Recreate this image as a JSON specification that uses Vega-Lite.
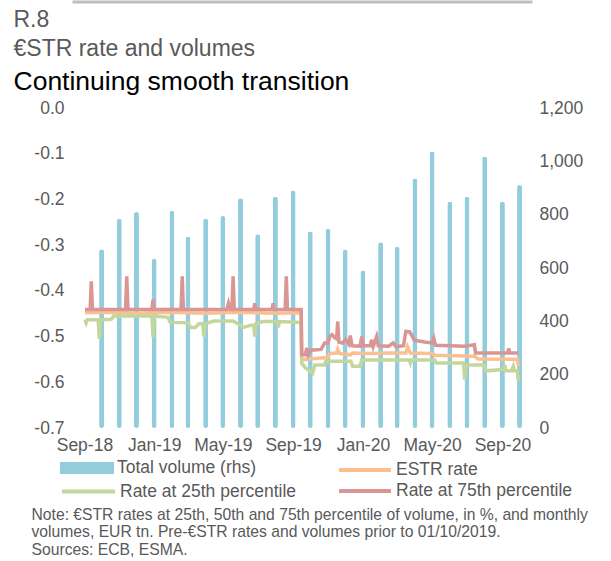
{
  "$schema": "https://vega.github.io/schema/vega-lite/v6.json",
  "width": 460,
  "height": 320,
  "autosize": "none",
  "padding": {"left": 72, "top": 108, "right": 79, "bottom": 133},
  "background": "white",
  "config": {
    "view": {"stroke": null},
    "font": "Liberation Sans",
    "axis": {"domain": false, "ticks": false, "tickSize": 0, "grid": false, "labelFont": "Liberation Sans", "labelFontSize": 17.5, "labelColor": "#595959", "titleFont": "Liberation Sans", "titleFontWeight": "normal"},
    "legend": {"padding": 0, "labelFont": "Liberation Sans", "labelFontSize": 17.5, "labelColor": "#595959", "labelOffset": 3, "labelLimit": 0}
  },
  "datasets": {
    "volume": [
      {"month": "2018-10-01", "volume": 670},
      {"month": "2018-11-01", "volume": 785},
      {"month": "2018-12-01", "volume": 810},
      {"month": "2019-01-01", "volume": 635},
      {"month": "2019-02-01", "volume": 815},
      {"month": "2019-03-01", "volume": 717},
      {"month": "2019-04-01", "volume": 785},
      {"month": "2019-05-01", "volume": 795},
      {"month": "2019-06-01", "volume": 862},
      {"month": "2019-07-01", "volume": 727},
      {"month": "2019-08-01", "volume": 867},
      {"month": "2019-09-01", "volume": 891},
      {"month": "2019-10-01", "volume": 737},
      {"month": "2019-11-01", "volume": 747},
      {"month": "2019-12-01", "volume": 669},
      {"month": "2020-01-01", "volume": 591},
      {"month": "2020-02-01", "volume": 697},
      {"month": "2020-03-01", "volume": 679},
      {"month": "2020-04-01", "volume": 936},
      {"month": "2020-05-01", "volume": 1037},
      {"month": "2020-06-01", "volume": 849},
      {"month": "2020-07-01", "volume": 867},
      {"month": "2020-08-01", "volume": 1018},
      {"month": "2020-09-01", "volume": 849},
      {"month": "2020-10-01", "volume": 911}
    ],
    "rates": [
      {"date": "2018-09-02", "series": "ESTR rate", "rate": -0.448},
      {"date": "2018-10-15", "series": "ESTR rate", "rate": -0.447},
      {"date": "2018-12-01", "series": "ESTR rate", "rate": -0.449},
      {"date": "2019-02-01", "series": "ESTR rate", "rate": -0.447},
      {"date": "2019-04-01", "series": "ESTR rate", "rate": -0.449},
      {"date": "2019-06-01", "series": "ESTR rate", "rate": -0.447},
      {"date": "2019-08-01", "series": "ESTR rate", "rate": -0.449},
      {"date": "2019-09-15", "series": "ESTR rate", "rate": -0.448},
      {"date": "2019-09-16", "series": "ESTR rate", "rate": -0.551},
      {"date": "2019-10-09", "series": "ESTR rate", "rate": -0.548},
      {"date": "2019-10-31", "series": "ESTR rate", "rate": -0.546},
      {"date": "2019-11-04", "series": "ESTR rate", "rate": -0.537},
      {"date": "2019-11-16", "series": "ESTR rate", "rate": -0.536},
      {"date": "2019-11-18", "series": "ESTR rate", "rate": -0.528},
      {"date": "2019-11-21", "series": "ESTR rate", "rate": -0.537},
      {"date": "2019-12-10", "series": "ESTR rate", "rate": -0.540},
      {"date": "2019-12-14", "series": "ESTR rate", "rate": -0.536},
      {"date": "2020-01-15", "series": "ESTR rate", "rate": -0.537},
      {"date": "2020-02-15", "series": "ESTR rate", "rate": -0.536},
      {"date": "2020-03-16", "series": "ESTR rate", "rate": -0.536},
      {"date": "2020-03-19", "series": "ESTR rate", "rate": -0.522},
      {"date": "2020-03-24", "series": "ESTR rate", "rate": -0.536},
      {"date": "2020-05-01", "series": "ESTR rate", "rate": -0.537},
      {"date": "2020-05-06", "series": "ESTR rate", "rate": -0.541},
      {"date": "2020-07-14", "series": "ESTR rate", "rate": -0.543},
      {"date": "2020-07-21", "series": "ESTR rate", "rate": -0.549},
      {"date": "2020-09-27", "series": "ESTR rate", "rate": -0.550},
      {"date": "2020-09-29", "series": "ESTR rate", "rate": -0.565},

      {"date": "2018-09-02", "series": "Rate at 25th percentile", "rate": -0.463},
      {"date": "2018-09-04", "series": "Rate at 25th percentile", "rate": -0.470},
      {"date": "2018-09-06", "series": "Rate at 25th percentile", "rate": -0.463},
      {"date": "2018-09-25", "series": "Rate at 25th percentile", "rate": -0.463},
      {"date": "2018-09-27", "series": "Rate at 25th percentile", "rate": -0.505},
      {"date": "2018-09-29", "series": "Rate at 25th percentile", "rate": -0.463},
      {"date": "2018-10-18", "series": "Rate at 25th percentile", "rate": -0.462},
      {"date": "2018-10-22", "series": "Rate at 25th percentile", "rate": -0.455},
      {"date": "2018-12-28", "series": "Rate at 25th percentile", "rate": -0.455},
      {"date": "2018-12-30", "series": "Rate at 25th percentile", "rate": -0.502},
      {"date": "2019-01-01", "series": "Rate at 25th percentile", "rate": -0.455},
      {"date": "2019-01-25", "series": "Rate at 25th percentile", "rate": -0.458},
      {"date": "2019-01-29", "series": "Rate at 25th percentile", "rate": -0.469},
      {"date": "2019-03-02", "series": "Rate at 25th percentile", "rate": -0.470},
      {"date": "2019-03-05", "series": "Rate at 25th percentile", "rate": -0.480},
      {"date": "2019-03-14", "series": "Rate at 25th percentile", "rate": -0.480},
      {"date": "2019-03-20", "series": "Rate at 25th percentile", "rate": -0.472},
      {"date": "2019-03-27", "series": "Rate at 25th percentile", "rate": -0.472},
      {"date": "2019-03-29", "series": "Rate at 25th percentile", "rate": -0.500},
      {"date": "2019-03-31", "series": "Rate at 25th percentile", "rate": -0.472},
      {"date": "2019-04-15", "series": "Rate at 25th percentile", "rate": -0.466},
      {"date": "2019-05-19", "series": "Rate at 25th percentile", "rate": -0.466},
      {"date": "2019-06-01", "series": "Rate at 25th percentile", "rate": -0.475},
      {"date": "2019-06-06", "series": "Rate at 25th percentile", "rate": -0.480},
      {"date": "2019-06-20", "series": "Rate at 25th percentile", "rate": -0.475},
      {"date": "2019-06-24", "series": "Rate at 25th percentile", "rate": -0.475},
      {"date": "2019-06-26", "series": "Rate at 25th percentile", "rate": -0.500},
      {"date": "2019-06-28", "series": "Rate at 25th percentile", "rate": -0.472},
      {"date": "2019-07-10", "series": "Rate at 25th percentile", "rate": -0.467},
      {"date": "2019-08-04", "series": "Rate at 25th percentile", "rate": -0.467},
      {"date": "2019-08-06", "series": "Rate at 25th percentile", "rate": -0.480},
      {"date": "2019-08-08", "series": "Rate at 25th percentile", "rate": -0.467},
      {"date": "2019-09-15", "series": "Rate at 25th percentile", "rate": -0.469},
      {"date": "2019-09-16", "series": "Rate at 25th percentile", "rate": -0.558},
      {"date": "2019-09-22", "series": "Rate at 25th percentile", "rate": -0.568},
      {"date": "2019-09-30", "series": "Rate at 25th percentile", "rate": -0.575},
      {"date": "2019-10-05", "series": "Rate at 25th percentile", "rate": -0.580},
      {"date": "2019-10-09", "series": "Rate at 25th percentile", "rate": -0.562},
      {"date": "2019-10-26", "series": "Rate at 25th percentile", "rate": -0.562},
      {"date": "2019-10-28", "series": "Rate at 25th percentile", "rate": -0.554},
      {"date": "2019-12-11", "series": "Rate at 25th percentile", "rate": -0.554},
      {"date": "2019-12-14", "series": "Rate at 25th percentile", "rate": -0.565},
      {"date": "2019-12-27", "series": "Rate at 25th percentile", "rate": -0.565},
      {"date": "2019-12-30", "series": "Rate at 25th percentile", "rate": -0.551},
      {"date": "2020-03-22", "series": "Rate at 25th percentile", "rate": -0.551},
      {"date": "2020-03-24", "series": "Rate at 25th percentile", "rate": -0.558},
      {"date": "2020-03-26", "series": "Rate at 25th percentile", "rate": -0.551},
      {"date": "2020-05-06", "series": "Rate at 25th percentile", "rate": -0.551},
      {"date": "2020-05-08", "series": "Rate at 25th percentile", "rate": -0.558},
      {"date": "2020-06-25", "series": "Rate at 25th percentile", "rate": -0.558},
      {"date": "2020-06-27", "series": "Rate at 25th percentile", "rate": -0.594},
      {"date": "2020-06-29", "series": "Rate at 25th percentile", "rate": -0.562},
      {"date": "2020-07-31", "series": "Rate at 25th percentile", "rate": -0.562},
      {"date": "2020-08-03", "series": "Rate at 25th percentile", "rate": -0.575},
      {"date": "2020-09-03", "series": "Rate at 25th percentile", "rate": -0.572},
      {"date": "2020-09-05", "series": "Rate at 25th percentile", "rate": -0.562},
      {"date": "2020-09-07", "series": "Rate at 25th percentile", "rate": -0.575},
      {"date": "2020-09-17", "series": "Rate at 25th percentile", "rate": -0.575},
      {"date": "2020-09-20", "series": "Rate at 25th percentile", "rate": -0.565},
      {"date": "2020-09-22", "series": "Rate at 25th percentile", "rate": -0.575},
      {"date": "2020-09-27", "series": "Rate at 25th percentile", "rate": -0.575},
      {"date": "2020-09-29", "series": "Rate at 25th percentile", "rate": -0.598},

      {"date": "2018-09-02", "series": "Rate at 75th percentile", "rate": -0.441},
      {"date": "2018-09-11", "series": "Rate at 75th percentile", "rate": -0.441},
      {"date": "2018-09-13", "series": "Rate at 75th percentile", "rate": -0.379},
      {"date": "2018-09-15", "series": "Rate at 75th percentile", "rate": -0.441},
      {"date": "2018-11-12", "series": "Rate at 75th percentile", "rate": -0.441},
      {"date": "2018-11-14", "series": "Rate at 75th percentile", "rate": -0.368},
      {"date": "2018-11-16", "series": "Rate at 75th percentile", "rate": -0.441},
      {"date": "2018-12-28", "series": "Rate at 75th percentile", "rate": -0.441},
      {"date": "2018-12-30", "series": "Rate at 75th percentile", "rate": -0.419},
      {"date": "2019-01-01", "series": "Rate at 75th percentile", "rate": -0.441},
      {"date": "2019-02-17", "series": "Rate at 75th percentile", "rate": -0.441},
      {"date": "2019-02-19", "series": "Rate at 75th percentile", "rate": -0.368},
      {"date": "2019-02-21", "series": "Rate at 75th percentile", "rate": -0.441},
      {"date": "2019-05-08", "series": "Rate at 75th percentile", "rate": -0.441},
      {"date": "2019-05-11", "series": "Rate at 75th percentile", "rate": -0.427},
      {"date": "2019-05-14", "series": "Rate at 75th percentile", "rate": -0.441},
      {"date": "2019-05-17", "series": "Rate at 75th percentile", "rate": -0.441},
      {"date": "2019-05-19", "series": "Rate at 75th percentile", "rate": -0.368},
      {"date": "2019-05-21", "series": "Rate at 75th percentile", "rate": -0.441},
      {"date": "2019-06-24", "series": "Rate at 75th percentile", "rate": -0.441},
      {"date": "2019-06-26", "series": "Rate at 75th percentile", "rate": -0.427},
      {"date": "2019-06-28", "series": "Rate at 75th percentile", "rate": -0.441},
      {"date": "2019-07-26", "series": "Rate at 75th percentile", "rate": -0.441},
      {"date": "2019-07-28", "series": "Rate at 75th percentile", "rate": -0.427},
      {"date": "2019-07-30", "series": "Rate at 75th percentile", "rate": -0.441},
      {"date": "2019-08-18", "series": "Rate at 75th percentile", "rate": -0.441},
      {"date": "2019-08-20", "series": "Rate at 75th percentile", "rate": -0.368},
      {"date": "2019-08-22", "series": "Rate at 75th percentile", "rate": -0.441},
      {"date": "2019-09-15", "series": "Rate at 75th percentile", "rate": -0.441},
      {"date": "2019-09-16", "series": "Rate at 75th percentile", "rate": -0.540},
      {"date": "2019-09-22", "series": "Rate at 75th percentile", "rate": -0.540},
      {"date": "2019-09-25", "series": "Rate at 75th percentile", "rate": -0.525},
      {"date": "2019-09-27", "series": "Rate at 75th percentile", "rate": -0.540},
      {"date": "2019-10-02", "series": "Rate at 75th percentile", "rate": -0.530},
      {"date": "2019-10-20", "series": "Rate at 75th percentile", "rate": -0.528},
      {"date": "2019-10-26", "series": "Rate at 75th percentile", "rate": -0.514},
      {"date": "2019-11-01", "series": "Rate at 75th percentile", "rate": -0.514},
      {"date": "2019-11-04", "series": "Rate at 75th percentile", "rate": -0.500},
      {"date": "2019-11-08", "series": "Rate at 75th percentile", "rate": -0.496},
      {"date": "2019-11-12", "series": "Rate at 75th percentile", "rate": -0.502},
      {"date": "2019-11-16", "series": "Rate at 75th percentile", "rate": -0.505},
      {"date": "2019-11-18", "series": "Rate at 75th percentile", "rate": -0.467},
      {"date": "2019-11-20", "series": "Rate at 75th percentile", "rate": -0.512},
      {"date": "2019-11-26", "series": "Rate at 75th percentile", "rate": -0.514},
      {"date": "2019-12-02", "series": "Rate at 75th percentile", "rate": -0.506},
      {"date": "2019-12-07", "series": "Rate at 75th percentile", "rate": -0.516},
      {"date": "2019-12-10", "series": "Rate at 75th percentile", "rate": -0.498},
      {"date": "2019-12-13", "series": "Rate at 75th percentile", "rate": -0.520},
      {"date": "2019-12-27", "series": "Rate at 75th percentile", "rate": -0.521},
      {"date": "2019-12-30", "series": "Rate at 75th percentile", "rate": -0.500},
      {"date": "2020-01-02", "series": "Rate at 75th percentile", "rate": -0.520},
      {"date": "2020-01-14", "series": "Rate at 75th percentile", "rate": -0.520},
      {"date": "2020-01-16", "series": "Rate at 75th percentile", "rate": -0.507},
      {"date": "2020-01-19", "series": "Rate at 75th percentile", "rate": -0.522},
      {"date": "2020-01-25", "series": "Rate at 75th percentile", "rate": -0.500},
      {"date": "2020-01-28", "series": "Rate at 75th percentile", "rate": -0.520},
      {"date": "2020-02-15", "series": "Rate at 75th percentile", "rate": -0.521},
      {"date": "2020-02-23", "series": "Rate at 75th percentile", "rate": -0.514},
      {"date": "2020-02-28", "series": "Rate at 75th percentile", "rate": -0.522},
      {"date": "2020-03-12", "series": "Rate at 75th percentile", "rate": -0.520},
      {"date": "2020-03-16", "series": "Rate at 75th percentile", "rate": -0.489},
      {"date": "2020-03-23", "series": "Rate at 75th percentile", "rate": -0.490},
      {"date": "2020-03-31", "series": "Rate at 75th percentile", "rate": -0.508},
      {"date": "2020-04-18", "series": "Rate at 75th percentile", "rate": -0.512},
      {"date": "2020-05-01", "series": "Rate at 75th percentile", "rate": -0.514},
      {"date": "2020-05-04", "series": "Rate at 75th percentile", "rate": -0.504},
      {"date": "2020-05-07", "series": "Rate at 75th percentile", "rate": -0.519},
      {"date": "2020-06-27", "series": "Rate at 75th percentile", "rate": -0.521},
      {"date": "2020-07-14", "series": "Rate at 75th percentile", "rate": -0.518},
      {"date": "2020-07-16", "series": "Rate at 75th percentile", "rate": -0.536},
      {"date": "2020-09-10", "series": "Rate at 75th percentile", "rate": -0.536},
      {"date": "2020-09-12", "series": "Rate at 75th percentile", "rate": -0.526},
      {"date": "2020-09-14", "series": "Rate at 75th percentile", "rate": -0.536},
      {"date": "2020-09-29", "series": "Rate at 75th percentile", "rate": -0.536}
    ]
  },
  "layer": [
    {
      "data": {"name": "volume"},
      "mark": {"type": "bar", "size": 5, "cornerRadius": 2.4},
      "encoding": {
        "x": {
          "field": "month", "type": "temporal",
          "scale": {"domain": [{"year": 2018, "month": 8, "date": 19}, {"year": 2020, "month": 10, "date": 14}]},
          "axis": {
            "orient": "bottom",
            "values": [{"year": 2018, "month": 9, "date": 1}, {"year": 2019, "month": 1, "date": 1}, {"year": 2019, "month": 5, "date": 1}, {"year": 2019, "month": 9, "date": 1}, {"year": 2020, "month": 1, "date": 1}, {"year": 2020, "month": 5, "date": 1}, {"year": 2020, "month": 9, "date": 1}],
            "format": "%b-%y",
            "labelPadding": 8,
            "labelFlush": false,
            "labelOverlap": false,
            "title": ["Note: €STR rates at 25th, 50th and 75th percentile of volume, in %, and monthly", "volumes, EUR tn. Pre-€STR rates and volumes prior to 01/10/2019.", "Sources: ECB, ESMA."],
            "titleX": -41,
            "titleY": 91,
            "titleAlign": "left",
            "titleBaseline": "alphabetic",
            "titleAngle": 0,
            "titleFontSize": 15.7,
            "titleColor": "#595959",
            "titleLineHeight": 17.5
          }
        },
        "y": {
          "field": "volume", "type": "quantitative",
          "scale": {"domain": [0, 1200], "nice": false},
          "axis": {
            "orient": "right",
            "values": [0, 200, 400, 600, 800, 1000, 1200],
            "format": ",.0f",
            "labelPadding": 7,
            "title": "Continuing smooth transition",
            "titleX": -519,
            "titleY": -19,
            "titleAngle": 0,
            "titleAlign": "left",
            "titleBaseline": "alphabetic",
            "titleFontSize": 26.5,
            "titleColor": "#000000"
          }
        },
        "color": {
          "datum": "Total volume (rhs)", "type": "nominal",
          "scale": {"domain": ["Total volume (rhs)"], "range": ["#93CDDD"]},
          "legend": {"orient": "none", "legendX": -12, "legendY": 333, "title": null, "symbolType": "M-1,-0.22H1V0.22H-1Z", "symbolSize": 2916, "symbolStrokeWidth": 0, "symbolOpacity": 1}
        }
      }
    },
    {
      "data": {"name": "rates"},
      "transform": [{"filter": "datum.series === 'ESTR rate'"}],
      "mark": {"type": "line", "strokeWidth": 3.5},
      "encoding": {
        "x": {
          "field": "date", "type": "temporal",
          "scale": {"domain": [{"year": 2018, "month": 8, "date": 19}, {"year": 2020, "month": 10, "date": 14}]},
          "axis": {"orient": "top", "offset": 106.5, "domain": true, "domainColor": "#BFBFBF", "domainWidth": 3, "labels": false, "ticks": false, "grid": false, "title": null}
        },
        "y": {
          "field": "rate", "type": "quantitative",
          "scale": {"domain": [-0.7, 0], "nice": false, "zero": false},
          "axis": {
            "orient": "left",
            "values": [-0.7, -0.6, -0.5, -0.4, -0.3, -0.2, -0.1, 0],
            "labelExpr": "datum.value == 0 ? '0.0' : '-' + format(-datum.value, '.1f')",
            "labelPadding": 8,
            "title": ["R.8", "€STR rate and volumes"],
            "titleX": -59,
            "titleY": -82,
            "titleAngle": 0,
            "titleAlign": "left",
            "titleBaseline": "alphabetic",
            "titleFontSize": 23,
            "titleColor": "#595959",
            "titleLineHeight": 29.5
          }
        },
        "color": {
          "field": "series", "type": "nominal",
          "scale": {"domain": ["ESTR rate"], "range": ["#FAC090"]},
          "legend": {"orient": "none", "legendX": 265, "legendY": 334, "title": null, "symbolType": "stroke", "symbolSize": 2704, "symbolStrokeWidth": 4}
        }
      }
    },
    {
      "data": {"name": "rates"},
      "transform": [{"filter": "datum.series === 'Rate at 25th percentile'"}],
      "mark": {"type": "line", "strokeWidth": 3.5},
      "encoding": {
        "x": {
          "field": "date", "type": "temporal",
          "scale": {"domain": [{"year": 2018, "month": 8, "date": 19}, {"year": 2020, "month": 10, "date": 14}]},
          "axis": null
        },
        "y": {
          "field": "rate", "type": "quantitative",
          "scale": {"domain": [-0.7, 0], "nice": false, "zero": false},
          "axis": null
        },
        "color": {
          "field": "series", "type": "nominal",
          "scale": {"domain": ["Rate at 25th percentile"], "range": ["#C3D69B"]},
          "legend": {"orient": "none", "legendX": -12, "legendY": 355, "title": null, "symbolType": "stroke", "symbolSize": 2809, "symbolStrokeWidth": 4}
        }
      }
    },
    {
      "data": {"name": "rates"},
      "transform": [{"filter": "datum.series === 'Rate at 75th percentile'"}],
      "mark": {"type": "line", "strokeWidth": 3.5},
      "encoding": {
        "x": {
          "field": "date", "type": "temporal",
          "scale": {"domain": [{"year": 2018, "month": 8, "date": 19}, {"year": 2020, "month": 10, "date": 14}]},
          "axis": null
        },
        "y": {
          "field": "rate", "type": "quantitative",
          "scale": {"domain": [-0.7, 0], "nice": false, "zero": false},
          "axis": null
        },
        "color": {
          "field": "series", "type": "nominal",
          "scale": {"domain": ["Rate at 75th percentile"], "range": ["#D99694"]},
          "legend": {"orient": "none", "legendX": 265, "legendY": 355, "title": null, "symbolType": "stroke", "symbolSize": 2704, "symbolStrokeWidth": 4}
        }
      }
    }
  ],
  "resolve": {
    "scale": {"y": "independent", "color": "independent"},
    "axis": {"x": "independent"},
    "legend": {"color": "independent"}
  }
}
